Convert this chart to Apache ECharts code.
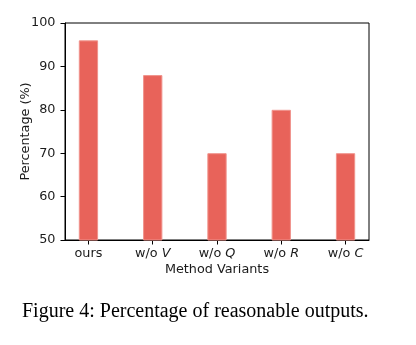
<!DOCTYPE html>
<html>
<head>
<meta charset="utf-8">
<style>
  html, body { margin: 0; padding: 0; background: #ffffff; }
  #chart { width: 416px; height: 345px; }
</style>
<script src="https://cdn.jsdelivr.net/npm/echarts@6/dist/echarts.min.js"></script>
</head>
<body>
<div id="chart"></div>
<script>
// Method variants and the share of reasonable outputs for each
const variantPrefix = ['ours', 'w/o ', 'w/o ', 'w/o ', 'w/o '];
const variantLetter = ['', 'V', 'Q', 'R', 'C'];
const percentages = [96, 88, 70, 80, 70];
const yTicks = [50, 60, 70, 80, 90, 100];
const captionText = 'Figure 4: Percentage of reasonable outputs.';

const positions = percentages.map((_, i) => i);
const barData = percentages.map((v, i) => [positions[i], v]);

const chart = echarts.init(document.getElementById('chart'), null, { renderer: 'canvas' });
const labelFont = 'DejaVu Sans';
const ink = '#1a1a1a';

chart.setOption({
  animation: false,
  grid: {
    left: 65, right: 47, top: 23, bottom: 105,
    show: true, borderColor: '#000', borderWidth: 1, backgroundColor: 'transparent'
  },
  xAxis: {
    type: 'value',
    min: -0.365, max: 4.365,
    name: 'Method Variants',
    nameLocation: 'middle',
    nameGap: 23,
    nameMoveOverlap: false,
    nameTextStyle: { fontFamily: labelFont, fontSize: 12.8, color: ink },
    axisLine: { show: true, onZero: false, lineStyle: { color: '#000', width: 1 } },
    axisTick: { show: true, length: 4.5, customValues: positions, lineStyle: { color: '#000' } },
    splitLine: { show: false },
    axisLabel: {
      customValues: positions,
      margin: 7.5,
      fontFamily: labelFont, fontSize: 12.8, color: ink,
      formatter: function (val) {
        const i = Math.round(val);
        return variantLetter[i] ? variantPrefix[i] + '{it|' + variantLetter[i] + '}' : variantPrefix[i];
      },
      rich: {
        it: { fontFamily: labelFont, fontSize: 12.8, fontStyle: 'italic', color: ink }
      }
    }
  },
  yAxis: {
    type: 'value',
    min: yTicks[0], max: yTicks[yTicks.length - 1], interval: 10,
    name: 'Percentage (%)',
    nameLocation: 'middle',
    nameGap: 33,
    nameMoveOverlap: false,
    nameTextStyle: { fontFamily: labelFont, fontSize: 12.8, color: ink },
    axisLine: { show: true, onZero: false, lineStyle: { color: '#000', width: 1 } },
    axisTick: { show: true, length: 4.5, lineStyle: { color: '#000' } },
    splitLine: { show: false },
    axisLabel: { margin: 9.5, fontFamily: labelFont, fontSize: 12.8, color: ink }
  },
  series: [{
    type: 'bar',
    data: barData,
    barWidth: 19.3,
    itemStyle: { color: '#e8635a', borderColor: '#f0938c', borderWidth: 1 }
  }],
  graphic: [{
    type: 'text',
    left: 22, top: 302,
    style: {
      text: captionText,
      fontFamily: 'Liberation Serif', fontSize: 20, fill: '#000'
    }
  }]
});
</script>
</body>
</html>
